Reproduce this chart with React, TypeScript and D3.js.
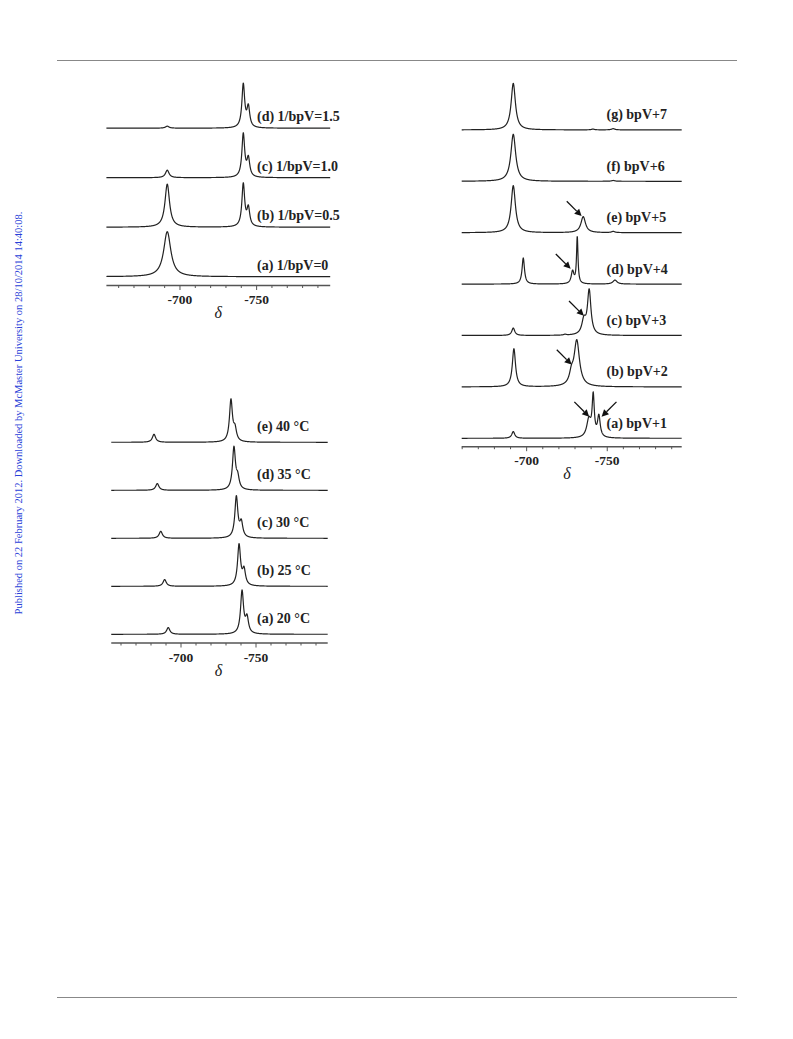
import React from "react";
import * as d3 from "d3";

type Peak = [number, number, number]; // [chemical shift δ, intensity, half-width]

// ---------- Panel 1: 1/bpV ratio series ----------
const ratioLabels = ["(a) 1/bpV=0", "(b) 1/bpV=0.5", "(c) 1/bpV=1.0", "(d) 1/bpV=1.5"];
const ratioPeaks: Peak[][] = [
  [[-691.7, 45, 2.8]],
  [[-691.7, 43, 1.8], [-741.3, 42.5, 1.1], [-744.6, 18, 1.1]],
  [[-691.7, 7.5, 1.4], [-741.3, 43, 1.1], [-744.6, 18, 1.1]],
  [[-691.7, 2, 1.4], [-741.3, 43, 1.1], [-744.6, 20, 1.1]],
];

// ---------- Panel 2: temperature series ----------
const tempLabels = ["(a) 20 °C", "(b) 25 °C", "(c) 30 °C", "(d) 35 °C", "(e) 40 °C"];
const tempPeaks: Peak[][] = [
  [[-691.5, 6.7, 1.3], [-740.7, 42.5, 1.2], [-744.0, 15.3, 1.2]],
  [[-689.1, 6.7, 1.3], [-738.7, 40.9, 1.2], [-742.0, 15.2, 1.2]],
  [[-686.5, 7.0, 1.3], [-736.9, 41.0, 1.2], [-740.2, 14.5, 1.2]],
  [[-684.2, 6.7, 1.3], [-735.3, 42.0, 1.2], [-737.8, 11.0, 1.2]],
  [[-682.0, 8.0, 1.3], [-733.3, 41.5, 1.2], [-736.0, 11.5, 1.2]],
];

// ---------- Panel 3: bpV equivalents series ----------
const bpvLabels = ["(a) bpV+1", "(b) bpV+2", "(c) bpV+3", "(d) bpV+4", "(e) bpV+5", "(f) bpV+6", "(g) bpV+7"];
const bpvPeaks: Peak[][] = [
  [[-691.7, 6.7, 1.1], [-741.3, 40, 0.8], [-744.8, 21, 1.0], [-738.6, 18, 1.6]],
  [[-692.1, 38, 1.2], [-731.1, 45.5, 2.0], [-727.8, 10, 1.5]],
  [[-691.7, 7.4, 1.1], [-738.8, 44.3, 1.3], [-735.5, 14, 1.5], [-723.8, 0.8, 1.0]],
  [[-697.9, 26, 0.9], [-731.4, 46.4, 0.55], [-728.5, 12.4, 1.0], [-754.8, 4, 1.5]],
  [[-691.7, 47, 1.6], [-735.1, 16, 1.7], [-753.7, 1.2, 1.2]],
  [[-691.7, 47, 1.8], [-753.7, 0.8, 1.2]],
  [[-691.7, 46.5, 1.6], [-741.1, 0.8, 1.0], [-753.7, 1.2, 1.2]],
];
// [spectrum index, δ at tip, intensity at tip, side (-1 from upper-left, +1 from upper-right)]
const bpvArrows: [number, number, number, number][] = [
  [0, -738.8, 21.6, -1],
  [0, -746.5, 21.6, 1],
  [1, -727.9, 22.3, -1],
  [2, -735.5, 19.7, -1],
  [3, -727.3, 15.3, -1],
  [4, -734.1, 16.6, -1],
];

const majorTicks = [-700, -750];
const minorTicks = d3.range(-660, -795, -10);
const axisTitle = "δ";
const sideNote = "Published on 22 February 2012. Downloaded by McMaster University on 28/10/2014 14:40:08.";

const SERIF = "'Liberation Serif', 'Times New Roman', serif";
const LINE = "#222";

function spectrumPath(peaks: Peak[], x: d3.ScaleLinear<number, number>, y: d3.ScaleLinear<number, number>) {
  const [d0, d1] = x.domain();
  const pts = d3.range(d0, d1, -0.05).concat([d1]);
  const line = d3
    .line<number>()
    .x((d) => x(d))
    .y((d) => y(peaks.reduce((s, [c, h, w]) => s + h / (1 + ((d - c) / w) ** 2), 0)));
  return line(pts) || "";
}

interface PanelProps {
  domain: [number, number];
  range: [number, number];
  axisY: number;
  base0: number;
  gap: number;
  labelX: number;
  labelDy: number;
  labels: string[];
  peaks: Peak[][];
  arrows?: [number, number, number, number][];
}

function Panel(p: PanelProps) {
  const x = d3.scaleLinear().domain(p.domain).range(p.range);
  const ys = p.peaks.map((_, i) => {
    const b = p.base0 - i * p.gap;
    return d3.scaleLinear().domain([0, 50]).range([b, b - 50]);
  });
  return (
    <g>
      {p.peaks.map((pk, i) => (
        <path key={"s" + i} d={spectrumPath(pk, x, ys[i])} fill="none" stroke={LINE} strokeWidth={1.2} />
      ))}
      {p.labels.map((l, i) => (
        <text
          key={"l" + i}
          x={p.labelX}
          y={ys[i](0) - p.labelDy}
          dominantBaseline="central"
          fontFamily={SERIF}
          fontWeight="bold"
          fontSize={14}
          fill="#222"
        >
          {l}
        </text>
      ))}
      {(p.arrows || []).map(([si, d, v, side], i) => {
        const tx = x(d);
        const ty = ys[si](v);
        const L = 21;
        const ux = side < 0 ? 1 / Math.SQRT2 : -1 / Math.SQRT2;
        const uy = 1 / Math.SQRT2;
        const sx = tx - ux * L;
        const sy = ty - uy * L;
        const hl = 7;
        const hw = 3.5;
        const bx = tx - ux * hl;
        const by = ty - uy * hl;
        const px = -uy;
        const py = ux;
        return (
          <g key={"a" + i}>
            <line x1={sx} y1={sy} x2={bx} y2={by} stroke="#111" strokeWidth={1.3} />
            <polygon
              points={`${tx},${ty} ${bx + px * hw},${by + py * hw} ${bx - px * hw},${by - py * hw}`}
              fill="#111"
            />
          </g>
        );
      })}
      <line x1={p.range[0]} x2={p.range[1]} y1={p.axisY} y2={p.axisY} stroke="#555" strokeWidth={1.5} />
      {minorTicks
        .filter((t) => t <= p.domain[0] && t >= p.domain[1])
        .map((t) => (
          <line key={"m" + t} x1={x(t)} x2={x(t)} y1={p.axisY} y2={p.axisY + (majorTicks.includes(t) ? 4.5 : 2.5)} stroke="#555" strokeWidth={1} />
        ))}
      {majorTicks.map((t) => (
        <text
          key={"t" + t}
          x={x(t)}
          y={p.axisY + 14}
          textAnchor="middle"
          dominantBaseline="central"
          fontFamily={SERIF}
          fontWeight="bold"
          fontSize={13.5}
          fill="#222"
        >
          {t}
        </text>
      ))}
      <text
        x={x(-725)}
        y={p.axisY + 27}
        textAnchor="middle"
        dominantBaseline="central"
        fontFamily={SERIF}
        fontStyle="italic"
        fontSize={16}
        fill="#222"
      >
        {axisTitle}
      </text>
    </g>
  );
}

export default function App() {
  return (
    <svg
      width={793}
      height={1039}
      viewBox="0 0 793 1039"
      style={{ position: "absolute", left: 0, top: 0, background: "#fff" }}
    >
      <rect x={0} y={0} width={793} height={1039} fill="#fff" />
      <line x1={57} x2={737} y1={60.5} y2={60.5} stroke="#888" strokeWidth={1} />
      <line x1={57} x2={737} y1={997.5} y2={997.5} stroke="#888" strokeWidth={1} />
      <text
        transform="translate(18,413) rotate(-90)"
        textAnchor="middle"
        dominantBaseline="central"
        fontFamily={SERIF}
        fontSize={10.5}
        fill="#2840d8"
      >
        {sideNote}
      </text>
      <Panel
        domain={[-652, -798]}
        range={[106.4, 330.2]}
        axisY={285.5}
        base0={276.7}
        gap={49.5}
        labelX={257}
        labelDy={11.5}
        labels={ratioLabels}
        peaks={ratioPeaks}
      />
      <Panel
        domain={[-653.5, -797.8]}
        range={[111.25, 327.7]}
        axisY={643}
        base0={634.3}
        gap={48}
        labelX={257}
        labelDy={15.5}
        labels={tempLabels}
        peaks={tempPeaks}
      />
      <Panel
        domain={[-659.7, -796.2]}
        range={[461.7, 681.7]}
        axisY={446.7}
        base0={438.3}
        gap={51.4}
        labelX={606.5}
        labelDy={15}
        labels={bpvLabels}
        peaks={bpvPeaks}
        arrows={bpvArrows}
      />
    </svg>
  );
}
